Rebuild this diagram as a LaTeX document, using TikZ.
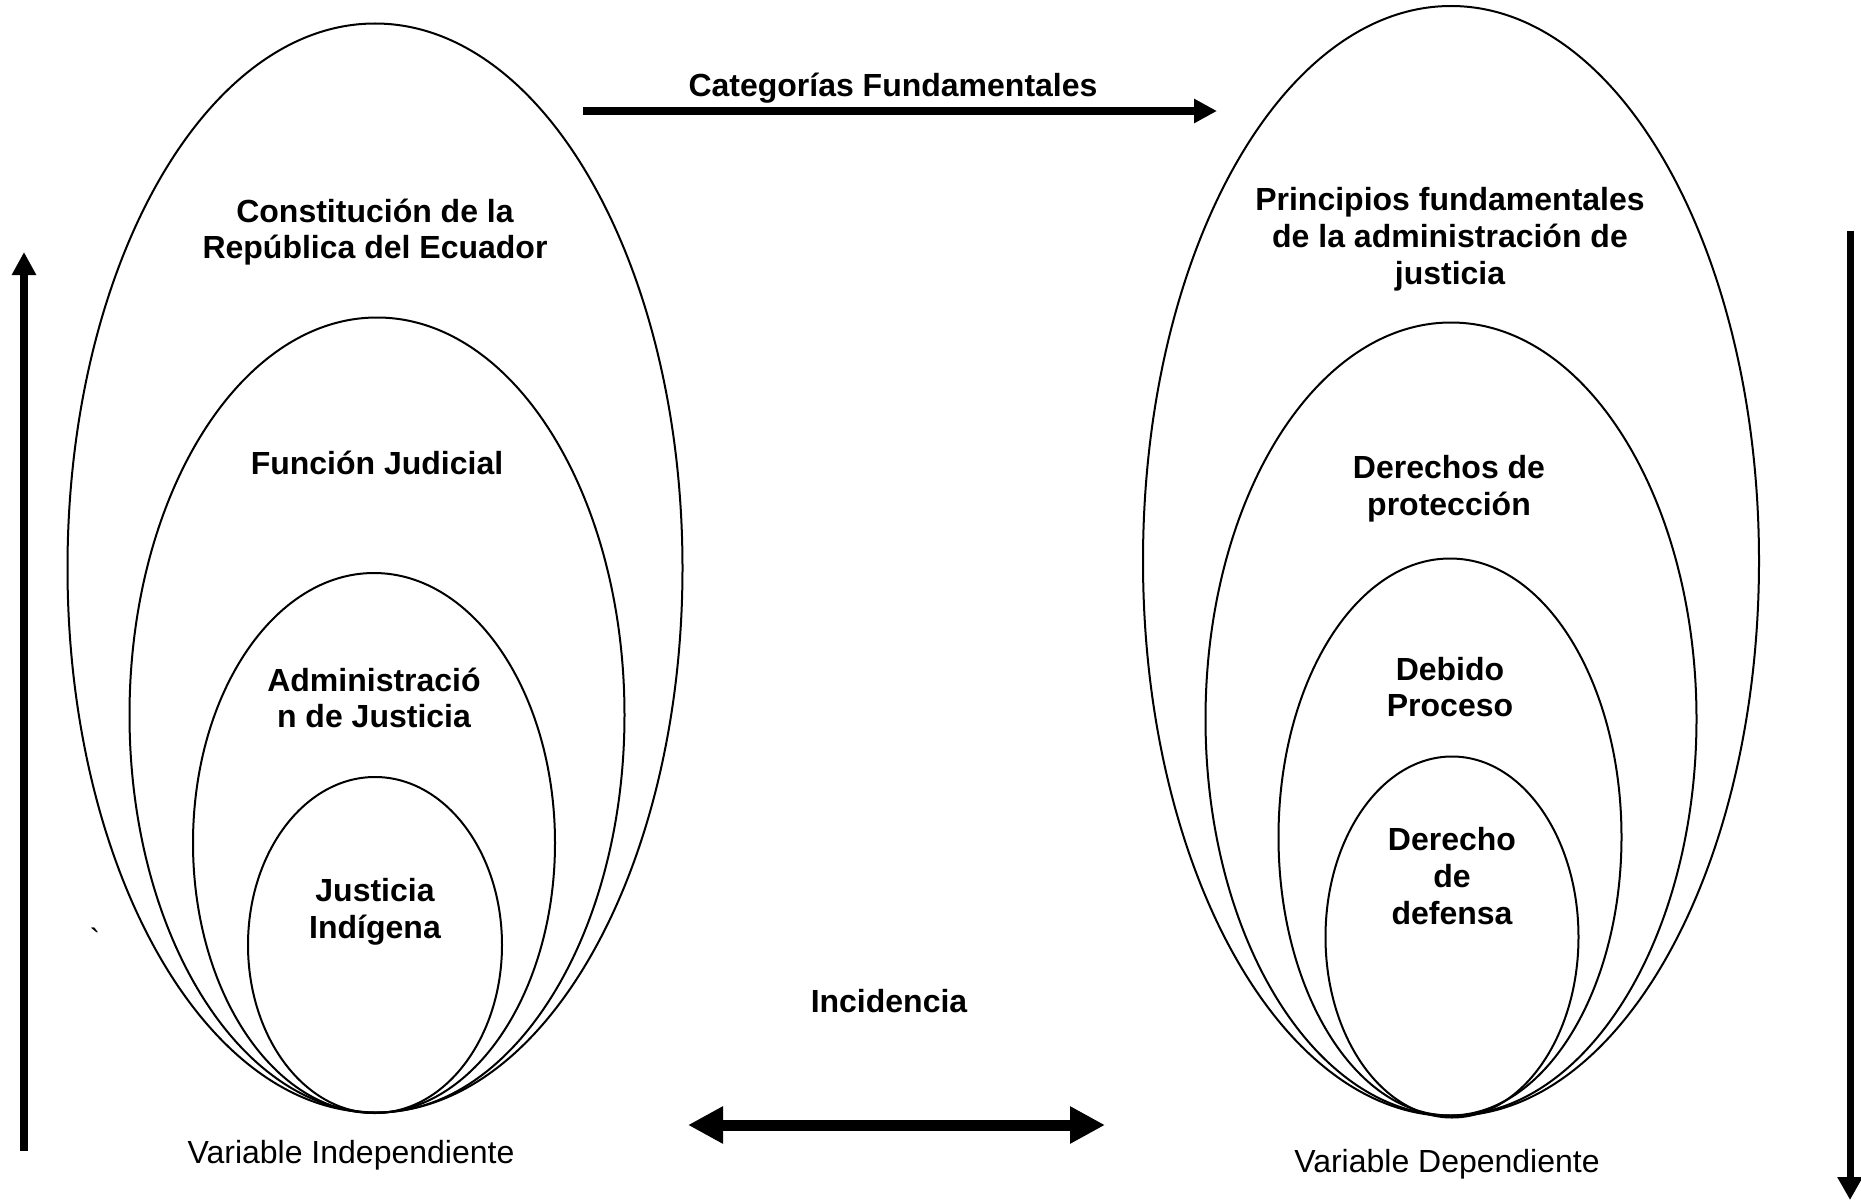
\documentclass[tikz,border=0pt]{standalone}
\usepackage{fontspec}
\setmainfont{Liberation Sans}
\usetikzlibrary{shapes.geometric,arrows.meta}

\begin{document}
\begin{tikzpicture}[x=1pt,y=-1pt]
\tikzstyle{orb}=[draw,ellipse,line width=2pt,inner sep=0pt];
\tikzstyle{cat}=[align=center,font=\fontsize{32}{36.8}\selectfont\bfseries];
\tikzstyle{var}=[font=\fontsize{32}{36.8}\selectfont];

\useasboundingbox (0,0) rectangle (1861,1201);

% variable independiente
\node[orb,minimum width=615pt,minimum height=1089pt] (i1) at (375,568) {};
\node[orb,minimum width=495pt,minimum height=795pt] (i2) at (377,715) {};
\node[orb,minimum width=362pt,minimum height=540pt] (i3) at (374,843) {};
\node[orb,minimum width=254pt,minimum height=336pt] (i4) at (375,945) {};

\node[cat] (ti1) at (375,232) {Constitución de la\\República del Ecuador};
\node[cat] (ti2) at (377,463) {Función Judicial};
\node[cat] (ti3) at (374,698) {Administració\\n de Justicia};
\node[cat] (ti4) at (375,912) {Justicia\\Indígena};
\node[var] (vi) at (351,1155) {Variable Independiente};
\node[var,anchor=base] (tick) at (95,951) {\textasciigrave};

% variable dependiente
\node[orb,minimum width=616pt,minimum height=1110pt] (d1) at (1451,561) {};
\node[orb,minimum width=491pt,minimum height=793pt] (d2) at (1451,719) {};
\node[orb,minimum width=343pt,minimum height=557pt] (d3) at (1450,837) {};
\node[orb,minimum width=253pt,minimum height=361pt] (d4) at (1452,937) {};

\node[cat] (td1) at (1450,239) {Principios fundamentales\\de la administración de\\justicia};
\node[cat] (td2) at (1449,489) {Derechos de\\protección};
\node[cat] (td3) at (1450,687) {Debido\\Proceso};
\node[cat] (td4) at (1452,876) {Derecho\\de\\defensa};
\node[var] (vd) at (1447,1164) {Variable Dependiente};

% flechas
\node[cat] (cf) at (893,88) {Categorías Fundamentales};
\coordinate (cfa) at (583,111);
\coordinate (cfb) at (1217,111);
\draw[line width=8pt,-{Triangle[length=23pt,width=23pt]}] (cfa) -- (cfb);

\node[cat] (inc) at (889,1001) {Incidencia};
\coordinate (inca) at (688,1125);
\coordinate (incb) at (1105,1125);
\draw[line width=11pt,{Triangle[length=35pt,width=35pt]}-{Triangle[length=35pt,width=35pt]}] (inca) -- (incb);

\coordinate (upa) at (24,1151);
\coordinate (upb) at (24,252);
\draw[line width=8pt,-{Triangle[length=23pt,width=23pt]}] (upa) -- (upb);

\coordinate (dna) at (1850,231);
\coordinate (dnb) at (1850,1200);
\draw[line width=7pt,-{Triangle[length=23pt,width=24pt]}] (dna) -- (dnb);

\end{tikzpicture}
\end{document}
